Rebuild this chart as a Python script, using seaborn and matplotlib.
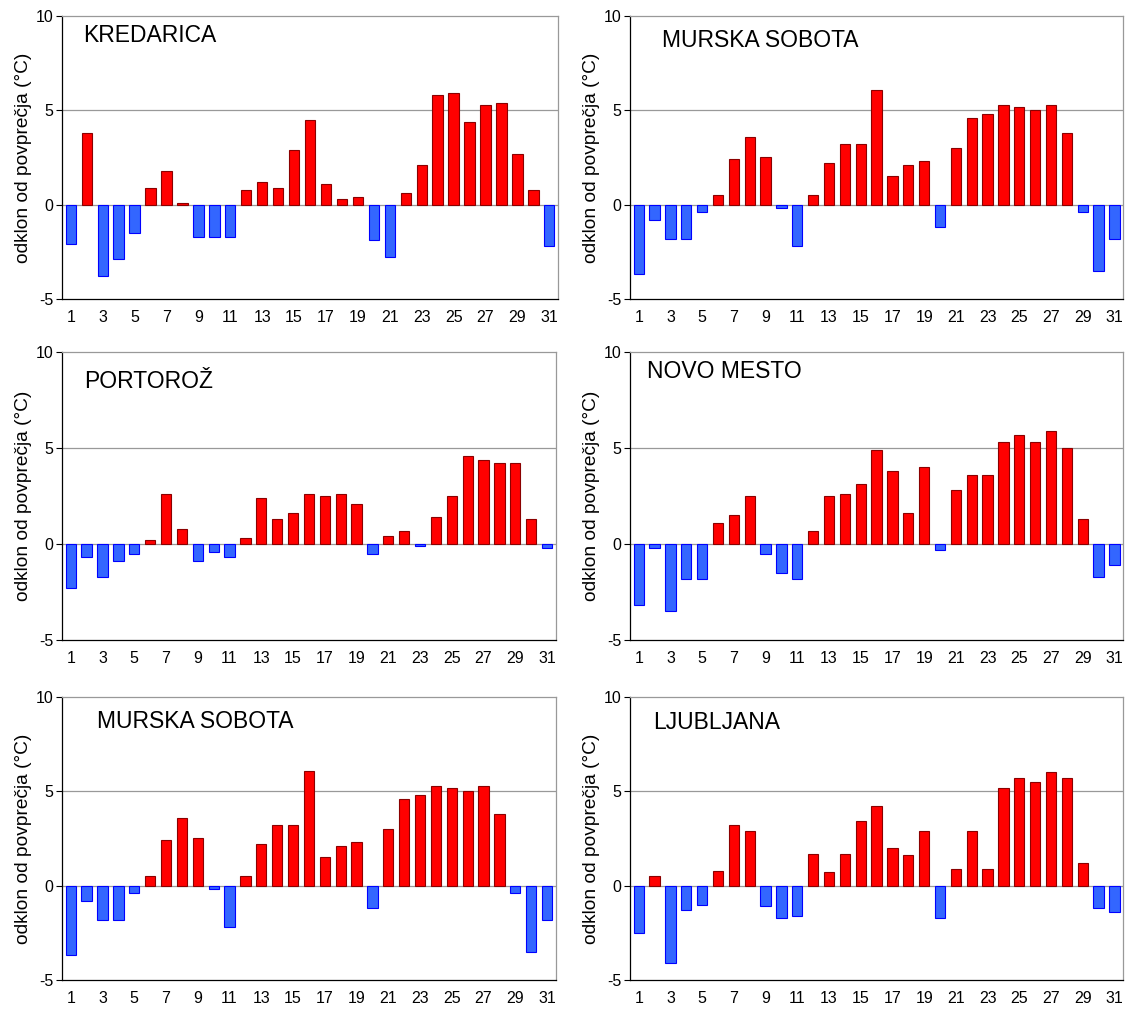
import numpy as np
import pandas as pd
import matplotlib
matplotlib.use("Agg")
import matplotlib.pyplot as plt
import seaborn as sns

# ==============================
# DATI: odklon dnevne temperature od povprečja (°C)
# ==============================
dnevi = list(range(1, 32))

kredarica = [-2.1, 3.8, -3.8, -2.9, -1.5, 0.9, 1.8, 0.1, -1.7, -1.7,
             -1.7, 0.8, 1.2, 0.9, 2.9, 4.5, 1.1, 0.3, 0.4, -1.9,
             -2.8, 0.6, 2.1, 5.8, 5.9, 4.4, 5.3, 5.4, 2.7, 0.8, -2.2]

murska_sobota = [-3.7, -0.8, -1.8, -1.8, -0.4, 0.5, 2.4, 3.6, 2.5, -0.2,
                 -2.2, 0.5, 2.2, 3.2, 3.2, 6.1, 1.5, 2.1, 2.3, -1.2,
                 3.0, 4.6, 4.8, 5.3, 5.2, 5.0, 5.3, 3.8, -0.4, -3.5, -1.8]

portoroz = [-2.3, -0.7, -1.7, -0.9, -0.5, 0.2, 2.6, 0.8, -0.9, -0.4,
            -0.7, 0.3, 2.4, 1.3, 1.6, 2.6, 2.5, 2.6, 2.1, -0.5,
            0.4, 0.7, -0.1, 1.4, 2.5, 4.6, 4.4, 4.2, 4.2, 1.3, -0.2]

novo_mesto = [-3.2, -0.2, -3.5, -1.8, -1.8, 1.1, 1.5, 2.5, -0.5, -1.5,
              -1.8, 0.7, 2.5, 2.6, 3.1, 4.9, 3.8, 1.6, 4.0, -0.3,
              2.8, 3.6, 3.6, 5.3, 5.7, 5.3, 5.9, 5.0, 1.3, -1.7, -1.1]

ljubljana = [-2.5, 0.5, -4.1, -1.3, -1.0, 0.8, 3.2, 2.9, -1.1, -1.7,
             -1.6, 1.7, 0.7, 1.7, 3.4, 4.2, 2.0, 1.6, 2.9, -1.7,
             0.9, 2.9, 0.9, 5.2, 5.7, 5.5, 6.0, 5.7, 1.2, -1.2, -1.4]

postaje = ["KREDARICA", "MURSKA SOBOTA", "PORTOROŽ",
           "NOVO MESTO", "MURSKA SOBOTA", "LJUBLJANA"]
vrednosti = [kredarica, murska_sobota, portoroz,
             novo_mesto, murska_sobota, ljubljana]

# ==============================
# STIL
# ==============================
sns.set_style("white")
plt.rcParams['font.family'] = ['Liberation Sans', 'DejaVu Sans']
plt.rcParams['text.color'] = 'black'
plt.rcParams['axes.labelcolor'] = 'black'
plt.rcParams['xtick.color'] = 'black'
plt.rcParams['ytick.color'] = 'black'

rdeca = "#FF0000"
rdeca_rob = "#8B0000"
modra = "#3366FF"
modra_rob = "#0000FF"

fig = plt.figure(figsize=(11.26, 10.11), dpi=100)

# pozicije panelov (levo, spodaj, širina, višina)
pozicije = [
    (0.0551, 0.7043, 0.4405, 0.2799),
    (0.5595, 0.7043, 0.4380, 0.2799),
    (0.0551, 0.3670, 0.4385, 0.2848),
    (0.5595, 0.3670, 0.4380, 0.2848),
    (0.0551, 0.0307, 0.4385, 0.2799),
    (0.5595, 0.0307, 0.4380, 0.2799),
]

# odmik napisa postaje od zgornjega levega kota (px): levo, osnovnica
odmiki = [(21, 26), (32, 31), (22, 36), (17, 26), (35, 31), (23, 32)]

for poz, ime, vals, odm in zip(pozicije, postaje, vrednosti, odmiki):
    ax = fig.add_axes(poz)

    df = pd.DataFrame({
        "dan": dnevi,
        "odklon": vals,
    })
    df["znak"] = np.where(df["odklon"] >= 0, "plus", "minus")

    sns.barplot(
        data=df,
        x="dan",
        y="odklon",
        hue="znak",
        palette={"plus": rdeca, "minus": modra},
        dodge=False,
        width=0.65,
        saturation=1,
        legend=False,
        ax=ax,
        zorder=3,
    )

    for p in ax.patches:
        if p.get_height() >= 0:
            p.set_edgecolor(rdeca_rob)
        else:
            p.set_edgecolor(modra_rob)
        p.set_linewidth(0.8)

    ax.set_ylim(-5, 10)
    ax.set_xlim(-0.55, 30.55)
    ax.set_yticks([-5, 0, 5, 10])
    ax.set_yticklabels(["-5", "0", "5", "10"], fontsize=11.5)

    # napisi na lihih dneh, male oznake med stolpci
    ax.set_xticks(range(0, 31, 2))
    ax.set_xticklabels([str(d) for d in dnevi[::2]], fontsize=11.5)
    ax.set_xticks(np.arange(-0.5, 31, 1), minor=True)
    ax.tick_params(axis="x", which="major", length=0, pad=8)
    ax.tick_params(axis="x", which="minor", length=4, width=0.8,
                   direction="out", color="black")
    ax.tick_params(axis="y", length=4, width=0.8, direction="out",
                   color="black", pad=2, left=True)

    for y in [0, 5]:
        ax.axhline(y, color="#999999", linewidth=0.9, zorder=1)

    ax.spines["left"].set_color("black")
    ax.spines["bottom"].set_color("black")
    ax.spines["top"].set_color("#999999")
    ax.spines["right"].set_color("#999999")
    for s in ax.spines.values():
        s.set_linewidth(0.9)

    ax.set_xlabel("")
    ax.set_ylabel("odklon od povprečja (°C)", fontsize=13.8, labelpad=3)

    ax.annotate(ime, xy=(0, 1), xycoords="axes fraction",
                xytext=(odm[0], -odm[1]), textcoords="offset pixels",
                fontsize=16.5, va="baseline", ha="left", color="black")

plt.savefig("out.png", dpi=100)
